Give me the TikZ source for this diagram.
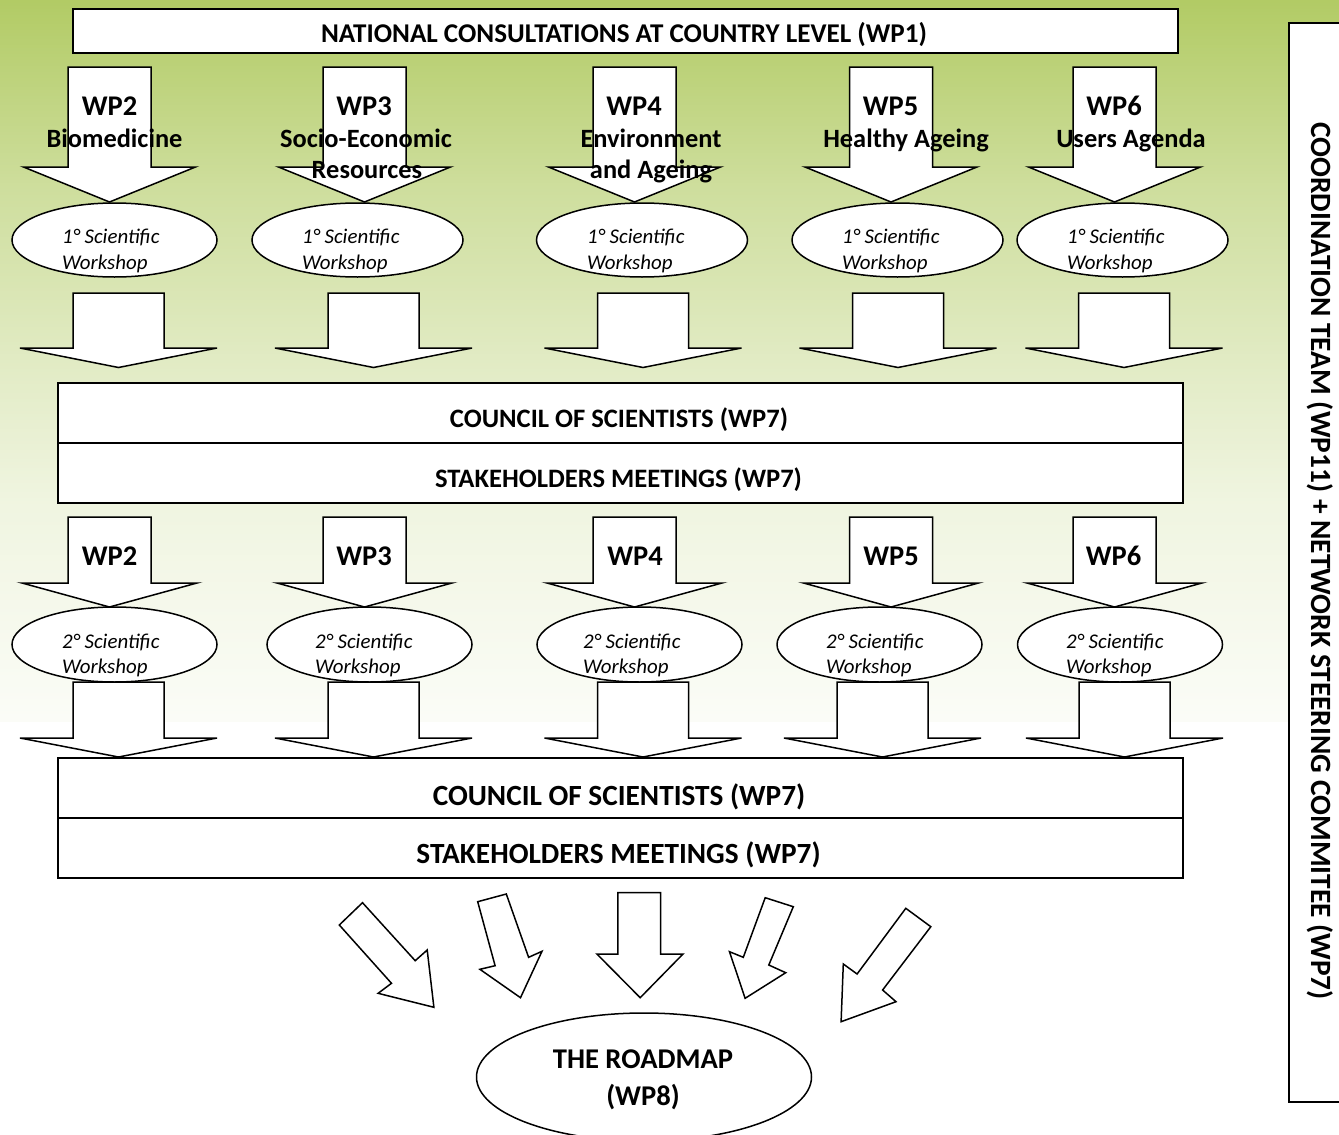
\documentclass[tikz,border=0pt]{standalone}
\usepackage{fontspec}
\setmainfont{Carlito}
\usetikzlibrary{shapes.geometric}
\definecolor{gA}{RGB}{178,203,101}
\tikzset{
  outl/.style={draw=black, line width=1.5pt, fill=white, line join=miter},
  wsell/.style={ellipse, outl, minimum height=74pt, inner sep=0pt},
  boxnode/.style={rectangle, outl, inner sep=0pt, anchor=north west},
  lbl/.style={font=\bfseries\fontsize{28.5}{34}\selectfont, anchor=base, inner sep=0pt},
  sublbl/.style={font=\bfseries\fontsize{26.4}{32}\selectfont, anchor=base, inner sep=0pt},
  wstxt/.style={font=\itshape\fontsize{20.9}{26}\selectfont, anchor=base west, inner sep=0pt},
  boxtxt/.style={font=\bfseries\fontsize{26.6}{32}\selectfont, anchor=base, inner sep=0pt},
  boxtxtb/.style={font=\bfseries\fontsize{29.3}{35}\selectfont, anchor=base, inner sep=0pt},
  bigtxt/.style={font=\bfseries\fontsize{28.6}{34}\selectfont, anchor=base, inner sep=0pt},
}
% block arrow pointing down: centre x, top, head y, tip y, half shaft, half head
\newcommand\blkarrow[6]{%
  \draw[outl] ({#1-#5},#2) -- ({#1+#5},#2) -- ({#1+#5},#3) -- ({#1+#6},#3)
    -- (#1,#4) -- ({#1-#6},#3) -- ({#1-#5},#3) -- cycle;}
\begin{document}
\begin{tikzpicture}[x=1pt,y=-1pt]
\useasboundingbox (0,0) rectangle (1339,1135);
\clip (0,0) rectangle (1339,1135);
% background gradient (green fading to white), drawn as thin strips
\foreach \y in {0,3,...,720}{
  \pgfmathsetmacro\p{100*(\y<190 ? 1-0.37*\y/190 : (\y<370 ? 0.63-0.26*(\y-190)/180 : (\y<500 ? 0.37-0.17*(\y-370)/130 : 0.20-0.15*(\y-500)/222)))}
  \fill[gA!\p!white] (0,\y) rectangle (1339,{min(\y+3.6,722)});
}

% right vertical box
\node[boxnode, minimum width=70pt, minimum height=1079pt] (coord) at (1288,22) {};
\node[rotate=-90, font=\bfseries\fontsize{29.4}{35}\selectfont, anchor=base, inner sep=0pt] (coordtxt) at (1311.5,561)
  {COORDINATION TEAM (WP11) + NETWORK STEERING COMMITEE (WP7)};

% top box
\node[boxnode, minimum width=1105pt, minimum height=44pt] (wp1) at (72,8) {};
\node[boxtxt, font=\bfseries\fontsize{27.1}{32}\selectfont] (wp1txt) at (624,42) {NATIONAL CONSULTATIONS AT COUNTRY LEVEL (WP1)};

% row 1 arrows
\blkarrow{109.5}{67}{167}{202}{41.5}{86}
\blkarrow{364.5}{67}{167}{202}{41.5}{86}
\blkarrow{634.5}{67}{167}{202}{41.5}{86}
\blkarrow{891}{67}{167}{202}{41.5}{86}
\blkarrow{1114.5}{67}{167}{202}{41.5}{86}

% row 1 ellipses
\node[wsell, minimum width=205pt] (wsa1) at (114.5,240) {};
\node[wsell, minimum width=211pt] (wsb1) at (357.5,240) {};
\node[wsell, minimum width=211pt] (wsc1) at (642,240) {};
\node[wsell, minimum width=211pt] (wsd1) at (897.5,240) {};
\node[wsell, minimum width=211pt] (wse1) at (1122.5,240) {};

% row 1 labels
\node[lbl] (l2) at (109.5,115) {WP2};
\node[sublbl] (l2a) at (114.5,147) {Biomedicine};
\node[lbl] (l3) at (364,115) {WP3};
\node[sublbl] (l3a) at (366,147) {Socio-Economic};
\node[sublbl] (l3b) at (367,178) {Resources};
\node[lbl] (l4) at (634,115) {WP4};
\node[sublbl] (l4a) at (651,147) {Environment};
\node[sublbl] (l4b) at (651,178) {and Ageing};
\node[lbl] (l5) at (890.5,115) {WP5};
\node[sublbl] (l5a) at (906,147) {Healthy Ageing};
\node[lbl] (l6) at (1114,115) {WP6};
\node[sublbl] (l6a) at (1131,147) {Users Agenda};

% row 1 ellipse texts
\foreach \x/\n in {62/a,302/b,587/c,842/d,1067/e}{
  \node[wstxt] (t1\n) at (\x,243) {1°~Scientific};
  \node[wstxt] (u1\n) at (\x,269) {Workshop};
}

% row 2 arrows
\blkarrow{118.5}{293}{348}{367.5}{45.5}{98.5}
\blkarrow{373.5}{293}{348}{367.5}{45.5}{98.5}
\blkarrow{643}{293}{348}{367.5}{45.5}{98.5}
\blkarrow{898}{293}{348}{367.5}{45.5}{98.5}
\blkarrow{1124}{293}{348}{367.5}{45.5}{98.5}

% council box 1
\node[boxnode, minimum width=1125pt, minimum height=60pt] (cs1) at (57,382) {};
\node[boxnode, minimum width=1125pt, minimum height=60pt] (sm1) at (57,442) {};
\node[boxtxt] (cs1txt) at (619,427) {COUNCIL OF SCIENTISTS (WP7)};
\node[boxtxt] (sm1txt) at (618.5,487) {STAKEHOLDERS MEETINGS (WP7)};

% row 3 arrows
\blkarrow{109.5}{517}{583}{607}{41.5}{87.5}
\blkarrow{364.5}{517}{583}{607}{41.5}{87.5}
\blkarrow{634.5}{517}{583}{607}{41.5}{87.5}
\blkarrow{891}{517}{583}{607}{41.5}{87.5}
\blkarrow{1114.5}{517}{583}{607}{41.5}{87.5}
\node[lbl] (m2) at (109.5,565) {WP2};
\node[lbl] (m3) at (364,565) {WP3};
\node[lbl] (m4) at (635,565) {WP4};
\node[lbl] (m5) at (891,565) {WP5};
\node[lbl] (m6) at (1113.5,565) {WP6};

% row 3 ellipses
\node[wsell, minimum width=205pt, minimum height=75pt] (wsa2) at (114.5,644.5) {};
\node[wsell, minimum width=205pt, minimum height=75pt] (wsb2) at (369.5,644.5) {};
\node[wsell, minimum width=205pt, minimum height=75pt] (wsc2) at (639.5,644.5) {};
\node[wsell, minimum width=205pt, minimum height=75pt] (wsd2) at (879.5,644.5) {};
\node[wsell, minimum width=205pt, minimum height=75pt] (wse2) at (1120,644.5) {};
\foreach \x/\n in {62/a,315/b,583/c,826/d,1066/e}{
  \node[wstxt] (t2\n) at (\x,648) {2°~Scientific};
  \node[wstxt] (u2\n) at (\x,673) {Workshop};
}

% row 4 arrows
\blkarrow{118.5}{682}{738}{757}{45.5}{98.5}
\blkarrow{373.5}{682}{738}{757}{45.5}{98.5}
\blkarrow{643}{682}{738}{757}{45.5}{98.5}
\blkarrow{882.5}{682}{738}{757}{45.5}{98.5}
\blkarrow{1124.5}{682}{738}{757}{45.5}{98.5}

% council box 2
\node[boxnode, minimum width=1125pt, minimum height=60pt] (cs2) at (57,757) {};
\node[boxnode, minimum width=1125pt, minimum height=60pt] (sm2) at (57,817) {};
\node[boxtxtb] (cs2txt) at (619,805) {COUNCIL OF SCIENTISTS (WP7)};
\node[boxtxtb] (sm2txt) at (618.5,863) {STAKEHOLDERS MEETINGS (WP7)};

% converging arrows
\draw[outl] (362.5,902.7) -- (415.2,960.7) -- (427.2,950) -- (433.9,1007.3) -- (378.1,993.3) -- (391.5,983.3) -- (339.3,925) -- cycle;
\draw[outl] (477.7,901.7) -- (506.3,894) -- (528.6,957.3) -- (542,951.3) -- (520.5,997.7) -- (479.9,969.3) -- (495.1,965.7) -- cycle;
\draw[outl] (617.9,892.7) -- (660.7,892.7) -- (660.7,954) -- (683,954) -- (640.2,997.7) -- (596.9,954) -- (617.9,954) -- cycle;
\draw[outl] (765.2,897.7) -- (793.3,906.7) -- (768.8,965) -- (785.7,972.7) -- (745.1,998.3) -- (729.5,951.7) -- (743.3,957.3) -- cycle;
\draw[outl] (905.8,908.3) -- (930.8,926.7) -- (882.6,990) -- (896,1001.7) -- (841.1,1021.7) -- (843.3,964) -- (857.1,974) -- cycle;

% roadmap
\node[ellipse, outl, minimum width=335pt, minimum height=128pt, inner sep=0pt] (road) at (644,1077) {};
\node[bigtxt] (roadtxt) at (643,1068) {THE ROADMAP};
\node[bigtxt] (roadwp) at (643,1105) {(WP8)};
\end{tikzpicture}
\end{document}
